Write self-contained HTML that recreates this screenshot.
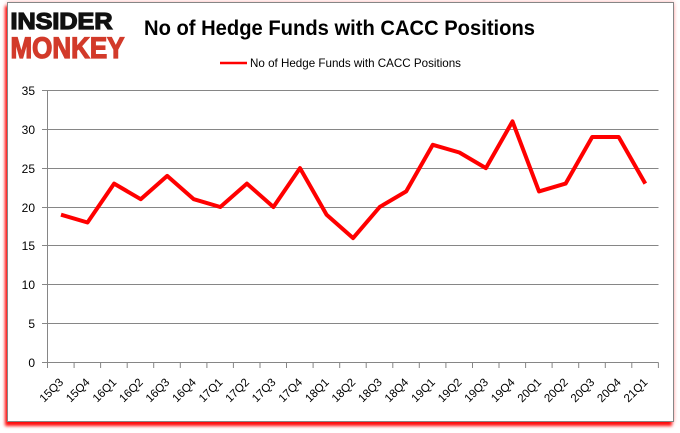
<!DOCTYPE html>
<html>
<head>
<meta charset="utf-8">
<style>
html,body{margin:0;padding:0;background:#fff;}
body{width:680px;height:433px;position:relative;overflow:hidden;}
.frame{position:absolute;left:7px;top:2px;width:665px;height:418px;border:1px solid #868686;background:#fff;box-shadow:-2px 4px 3px rgba(255,0,0,0.95),0 0 4px rgba(255,120,120,0.6);}
svg{position:absolute;left:0;top:0;}
</style>
</head>
<body>
<div class="frame"></div>
<svg width="680" height="433" viewBox="0 0 680 433" xmlns="http://www.w3.org/2000/svg" font-family="'Liberation Sans', sans-serif">
  <!-- logo -->
  <text x="10.5" y="29" font-size="23.5" font-weight="bold" fill="#111" stroke="#111" stroke-width="1.3" textLength="102" lengthAdjust="spacingAndGlyphs">INSIDER</text>
  <text x="10.5" y="58" font-size="29.5" font-weight="bold" fill="#d23a2a" stroke="#d23a2a" stroke-width="1.3" textLength="114" lengthAdjust="spacingAndGlyphs">MONKEY</text>
  <!-- title -->
  <text x="144" y="35" font-size="21" font-weight="bold" fill="#000" textLength="391" lengthAdjust="spacingAndGlyphs">No of Hedge Funds with CACC Positions</text>
  <!-- legend -->
  <line x1="220" y1="63" x2="247" y2="63" stroke="#ff0000" stroke-width="2.5"/>
  <text x="250" y="67" font-size="12" fill="#000" textLength="211" lengthAdjust="spacingAndGlyphs">No of Hedge Funds with CACC Positions</text>
  <!-- gridlines -->
  <g stroke="#868686" stroke-width="1">
    <line x1="42" y1="90.5" x2="658.5" y2="90.5"/>
    <line x1="42" y1="129.5" x2="658.5" y2="129.5"/>
    <line x1="42" y1="168.5" x2="658.5" y2="168.5"/>
    <line x1="42" y1="207.5" x2="658.5" y2="207.5"/>
    <line x1="42" y1="245.5" x2="658.5" y2="245.5"/>
    <line x1="42" y1="284.5" x2="658.5" y2="284.5"/>
    <line x1="42" y1="323.5" x2="658.5" y2="323.5"/>
    <line x1="42" y1="362.5" x2="658.5" y2="362.5"/>
    <line x1="47.5" y1="90.5" x2="47.5" y2="362.5"/>
  </g>
  <!-- x ticks -->
  <g stroke="#868686" stroke-width="1">
    <line x1="47.5" y1="362.5" x2="47.5" y2="368"/>
    <line x1="74.1" y1="362.5" x2="74.1" y2="368"/>
    <line x1="100.6" y1="362.5" x2="100.6" y2="368"/>
    <line x1="127.2" y1="362.5" x2="127.2" y2="368"/>
    <line x1="153.7" y1="362.5" x2="153.7" y2="368"/>
    <line x1="180.3" y1="362.5" x2="180.3" y2="368"/>
    <line x1="206.9" y1="362.5" x2="206.9" y2="368"/>
    <line x1="233.4" y1="362.5" x2="233.4" y2="368"/>
    <line x1="260.0" y1="362.5" x2="260.0" y2="368"/>
    <line x1="286.5" y1="362.5" x2="286.5" y2="368"/>
    <line x1="313.1" y1="362.5" x2="313.1" y2="368"/>
    <line x1="339.7" y1="362.5" x2="339.7" y2="368"/>
    <line x1="366.2" y1="362.5" x2="366.2" y2="368"/>
    <line x1="392.8" y1="362.5" x2="392.8" y2="368"/>
    <line x1="419.3" y1="362.5" x2="419.3" y2="368"/>
    <line x1="445.9" y1="362.5" x2="445.9" y2="368"/>
    <line x1="472.5" y1="362.5" x2="472.5" y2="368"/>
    <line x1="499.0" y1="362.5" x2="499.0" y2="368"/>
    <line x1="525.6" y1="362.5" x2="525.6" y2="368"/>
    <line x1="552.1" y1="362.5" x2="552.1" y2="368"/>
    <line x1="578.7" y1="362.5" x2="578.7" y2="368"/>
    <line x1="605.3" y1="362.5" x2="605.3" y2="368"/>
    <line x1="631.8" y1="362.5" x2="631.8" y2="368"/>
    <line x1="658.4" y1="362.5" x2="658.4" y2="368"/>
  </g>
  <!-- y labels -->
  <g font-size="12" fill="#000" text-anchor="end">
    <text x="35" y="95">35</text>
    <text x="35" y="134">30</text>
    <text x="35" y="173">25</text>
    <text x="35" y="212">20</text>
    <text x="35" y="250">15</text>
    <text x="35" y="289">10</text>
    <text x="35" y="328">5</text>
    <text x="35" y="367">0</text>
  </g>
  <!-- x labels -->
  <g font-size="11.5" fill="#000" text-anchor="end">
    <text transform="translate(64,383) rotate(-45)">15Q3</text>
    <text transform="translate(90.5,383) rotate(-45)">15Q4</text>
    <text transform="translate(117.1,383) rotate(-45)">16Q1</text>
    <text transform="translate(143.7,383) rotate(-45)">16Q2</text>
    <text transform="translate(170.2,383) rotate(-45)">16Q3</text>
    <text transform="translate(196.8,383) rotate(-45)">16Q4</text>
    <text transform="translate(223.3,383) rotate(-45)">17Q1</text>
    <text transform="translate(249.9,383) rotate(-45)">17Q2</text>
    <text transform="translate(276.4,383) rotate(-45)">17Q3</text>
    <text transform="translate(303,383) rotate(-45)">17Q4</text>
    <text transform="translate(329.6,383) rotate(-45)">18Q1</text>
    <text transform="translate(356.1,383) rotate(-45)">18Q2</text>
    <text transform="translate(382.7,383) rotate(-45)">18Q3</text>
    <text transform="translate(409.2,383) rotate(-45)">18Q4</text>
    <text transform="translate(435.8,383) rotate(-45)">19Q1</text>
    <text transform="translate(462.4,383) rotate(-45)">19Q2</text>
    <text transform="translate(488.9,383) rotate(-45)">19Q3</text>
    <text transform="translate(515.5,383) rotate(-45)">19Q4</text>
    <text transform="translate(542,383) rotate(-45)">20Q1</text>
    <text transform="translate(568.6,383) rotate(-45)">20Q2</text>
    <text transform="translate(595.2,383) rotate(-45)">20Q3</text>
    <text transform="translate(621.7,383) rotate(-45)">20Q4</text>
    <text transform="translate(648.3,383) rotate(-45)">21Q1</text>
  </g>
  <!-- series -->
  <polyline fill="none" stroke="#ff0000" stroke-width="4" stroke-linejoin="round" stroke-linecap="butt"
    points="61.0,214.7 87.5,222.5 114.1,183.6 140.7,199.2 167.2,175.9 193.8,199.2 220.3,207.0 246.9,183.6 273.4,207.0 300.0,168.1 326.6,214.7 353.1,238.1 379.7,207.0 406.2,191.4 432.8,144.8 459.4,152.5 485.9,168.1 512.5,121.4 539.0,191.4 565.6,183.6 592.2,137.0 618.7,137.0 645.3,183.6"/>
</svg>
</body>
</html>
